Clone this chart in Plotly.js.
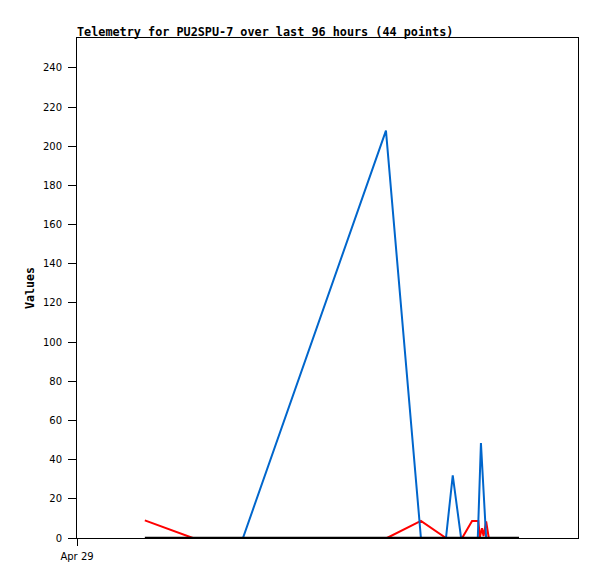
<!DOCTYPE html>
<html>
<head>
<meta charset="utf-8">
<script src="https://cdn.plot.ly/plotly-3.0.1.min.js"></script>
<style>html,body{margin:0;padding:0;background:#fff;}#chart{width:597px;height:579px;}</style>
</head>
<body>
<div id="chart"></div>
<script>
// Hours since the start of the 96-hour window
var redHours   = [13.0, 22.2, 59.4, 65.9, 70.7, 73.8, 75.7, 76.9, 77.2, 77.6, 77.9, 78.4, 78.9];
var redValues  = [9,    0,    0,    8.7,  0,    0,    8.7,  8.7,  0.5,  5,    1,    8.5,  0];

var blueHours  = [31.8, 59.2, 65.9, 70.7, 72.0, 73.6, 76.8, 77.4, 78.4];
var blueValues = [0,    208,  0,    0,    32,   0,    0,    48.5, 0];

var blackHours  = [13.0, 84.7];
var blackValues = [0,    0];

var xTickVals  = [0];
var xTickText  = ["Apr 29"];
var titleText  = "Telemetry for PU2SPU-7 over last 96 hours (44 points)";
var yTitleText = "Values";

var traces = [
  {x: redHours, y: redValues, type: 'scatter', mode: 'lines',
   line: {color: '#ff0000', width: 2}, hoverinfo: 'skip'},
  {x: blueHours, y: blueValues, type: 'scatter', mode: 'lines',
   line: {color: '#0066cc', width: 2}, hoverinfo: 'skip'},
  {x: blackHours, y: blackValues, type: 'scatter', mode: 'lines',
   line: {color: '#000000', width: 2.5}, hoverinfo: 'skip'}
];

var layout = {
  width: 597, height: 579,
  margin: {l: 77, r: 19, t: 38, b: 41},
  paper_bgcolor: '#ffffff', plot_bgcolor: '#ffffff',
  showlegend: false,
  font: {family: 'DejaVu Sans, sans-serif', size: 10, color: '#000'},
  title: {
    text: titleText,
    font: {family: 'DejaVu Sans Mono, monospace', size: 11.8, color: '#000', weight: 'bold'},
    xref: 'paper', x: 0, xanchor: 'left',
    yref: 'container', y: 1 - 31.5/579, yanchor: 'middle'
  },
  xaxis: {
    range: [0, 96], tickmode: 'array', tickvals: xTickVals, ticktext: xTickText,
    showgrid: false, zeroline: false,
    showline: true, linecolor: '#000', linewidth: 1, mirror: true,
    ticks: 'outside', ticklen: 7, tickcolor: '#000', ticklabelstandoff: 2,
    tickfont: {family: 'DejaVu Sans, sans-serif', size: 10, color: '#000'}
  },
  yaxis: {
    range: [0, 255.3], dtick: 20, tick0: 0,
    showgrid: false, zeroline: false,
    showline: true, linecolor: '#000', linewidth: 1, mirror: true,
    ticks: 'outside', ticklen: 8, tickcolor: '#000', ticklabelstandoff: 4,
    tickfont: {family: 'DejaVu Sans, sans-serif', size: 10, color: '#000'},
    title: {text: yTitleText, standoff: 5,
            font: {family: 'DejaVu Sans Mono, monospace', size: 11.6, color: '#000', weight: 'bold'}}
  }
};

Plotly.newPlot('chart', traces, layout, {staticPlot: true, displayModeBar: false});
</script>
</body>
</html>
